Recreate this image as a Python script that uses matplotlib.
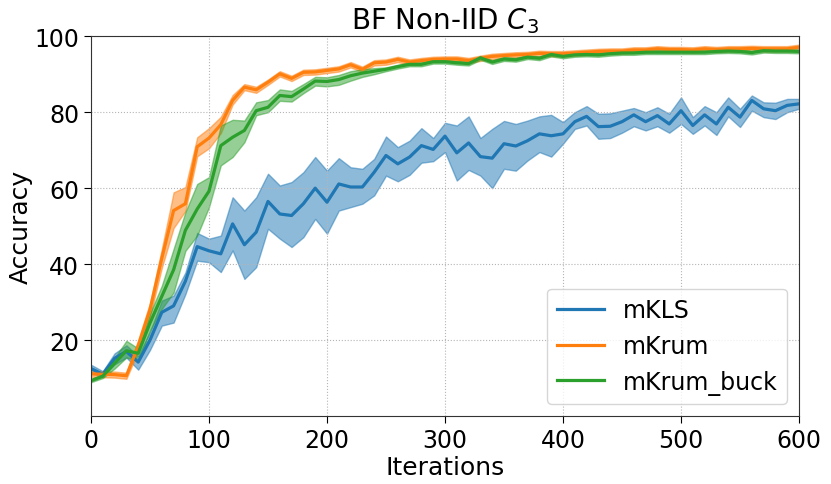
import matplotlib
matplotlib.use("Agg")
import matplotlib.pyplot as plt
import numpy as np

# iterations 0..600, every 10
iters = list(range(0, 601, 10))

# mKLS mean and band
mkls = [12.5, 11.0, 15.2, 17.0, 14.2, 20.0, 27.3, 29.0, 35.5, 44.6,
        43.5, 42.7, 50.6, 45.1, 48.4, 56.5, 53.2, 52.8, 55.9, 60.0,
        56.3, 61.1, 60.3, 60.3, 64.2, 68.6, 66.4, 68.2, 71.2, 70.2,
        73.7, 69.3, 71.9, 68.3, 67.9, 71.7, 71.1, 72.5, 74.3, 73.8,
        74.3, 77.5, 78.9, 76.2, 76.3, 77.5, 79.3, 77.5, 79.1, 76.9,
        80.4, 76.5, 79.3, 76.9, 81.3, 78.7, 83.1, 80.9, 80.4, 81.8, 82.2]
mkls_hi = [13.5, 11.8, 16.5, 18.6, 15.8, 22.2, 30.4, 31.7, 37.8, 48.2,
           46.7, 47.5, 57.6, 54.1, 57.6, 63.8, 60.7, 61.6, 64.2, 68.2,
           64.6, 67.9, 65.5, 65.1, 67.7, 73.6, 70.8, 72.5, 75.8, 73.2,
           77.2, 76.5, 78.9, 73.2, 75.6, 77.7, 76.9, 77.8, 78.9, 79.3,
           77.4, 80.0, 81.6, 79.6, 79.7, 80.4, 81.1, 80.0, 81.3, 79.6,
           83.9, 78.7, 81.6, 80.0, 83.9, 80.9, 84.4, 82.6, 82.5, 83.5, 83.5]
mkls_lo = [11.3, 10.4, 13.6, 15.4, 12.2, 17.4, 23.8, 24.6, 32.1, 40.9,
           40.5, 37.9, 43.6, 36.1, 39.2, 49.3, 46.7, 44.5, 47.1, 51.9,
           48.0, 54.1, 55.0, 55.9, 58.1, 63.3, 61.8, 63.5, 66.7, 67.1,
           69.5, 62.0, 64.8, 63.3, 60.0, 65.1, 64.6, 67.3, 69.5, 68.3,
           71.7, 75.6, 76.5, 73.0, 73.2, 74.6, 76.3, 75.2, 76.3, 74.6,
           76.9, 74.3, 76.5, 74.0, 78.9, 76.1, 80.4, 78.7, 78.2, 80.0, 80.9]

# mKrum
mkrum = [11.1, 11.0, 10.9, 10.6, 18.5, 28.0, 41.5, 54.1, 55.9, 70.9,
         73.2, 76.7, 83.1, 86.6, 85.9, 87.9, 90.1, 88.9, 90.5, 90.6,
         91.0, 91.4, 92.5, 91.3, 93.0, 93.2, 93.9, 93.2, 93.6, 93.9,
         94.0, 94.0, 93.6, 94.2, 94.7, 94.9, 95.1, 95.2, 95.5, 95.4,
         95.4, 95.6, 95.8, 96.0, 96.1, 96.1, 96.4, 96.4, 96.7, 96.5,
         96.5, 96.4, 96.7, 96.5, 96.7, 96.7, 96.8, 96.7, 96.7, 96.7, 97.1]
mkrum_hi = [11.9, 11.8, 11.7, 11.4, 20.0, 29.8, 44.0, 58.9, 60.3, 73.4,
            75.8, 78.8, 84.5, 87.4, 86.7, 88.6, 90.8, 89.6, 91.2, 91.3,
            91.7, 92.1, 93.2, 92.0, 93.7, 93.9, 94.6, 93.9, 94.3, 94.6,
            94.7, 94.7, 94.3, 94.9, 95.4, 95.6, 95.8, 95.9, 96.2, 96.1,
            96.1, 96.3, 96.5, 96.7, 96.8, 96.8, 97.1, 97.1, 97.4, 97.2,
            97.2, 97.1, 97.4, 97.2, 97.4, 97.4, 97.5, 97.4, 97.4, 97.4, 97.8]
mkrum_lo = [10.3, 10.2, 10.1, 9.8, 17.0, 26.2, 39.0, 49.5, 54.0, 68.4,
            70.5, 74.5, 82.0, 85.8, 85.1, 87.2, 89.4, 88.2, 89.8, 89.9,
            90.3, 90.7, 91.8, 90.6, 92.3, 92.5, 93.2, 92.5, 92.9, 93.2,
            93.3, 93.3, 92.9, 93.5, 94.0, 94.2, 94.4, 94.5, 94.8, 94.7,
            94.7, 94.9, 95.1, 95.3, 95.4, 95.4, 95.7, 95.7, 96.0, 95.8,
            95.8, 95.7, 96.0, 95.8, 96.0, 96.0, 96.1, 96.0, 96.0, 96.0, 96.4]

# mKrum_buck
buck = [9.3, 10.5, 13.9, 17.2, 16.5, 24.5, 31.5, 38.5, 48.9, 54.5,
        59.2, 71.2, 73.4, 75.2, 80.4, 81.3, 84.4, 84.1, 86.1, 88.2,
        88.1, 88.6, 89.6, 90.3, 90.8, 91.3, 92.0, 92.6, 92.6, 93.3,
        93.3, 93.0, 92.8, 94.3, 93.2, 94.0, 93.8, 94.5, 94.2, 95.2,
        94.7, 95.1, 95.2, 95.1, 95.4, 95.6, 95.6, 95.8, 95.8, 95.8,
        95.8, 95.8, 95.8, 96.0, 96.1, 96.0, 95.7, 96.2, 96.1, 96.1, 96.0]
buck_hi = [9.7, 11.0, 15.3, 19.8, 17.8, 27.0, 34.3, 44.0, 53.7, 61.1,
           62.9, 76.5, 78.0, 77.8, 82.6, 83.2, 86.0, 85.6, 87.4, 89.3,
           89.2, 89.8, 90.8, 91.3, 91.6, 91.8, 92.5, 93.1, 93.1, 93.8,
           93.8, 93.5, 93.3, 94.8, 93.7, 94.5, 94.3, 95.0, 94.7, 95.7,
           95.2, 95.6, 95.7, 95.6, 95.9, 96.1, 96.1, 96.3, 96.3, 96.3,
           96.3, 96.3, 96.3, 96.5, 96.6, 96.5, 96.2, 96.7, 96.6, 96.6, 96.5]
buck_lo = [8.9, 10.0, 12.5, 15.4, 14.5, 22.5, 28.2, 32.5, 43.5, 47.5,
           55.0, 66.0, 68.2, 72.1, 79.2, 80.0, 83.0, 82.8, 85.0, 87.0,
           86.8, 87.2, 88.3, 89.3, 90.0, 90.8, 91.5, 92.1, 92.1, 92.8,
           92.8, 92.5, 92.3, 93.8, 92.7, 93.5, 93.3, 94.0, 93.7, 94.7,
           94.2, 94.6, 94.7, 94.6, 94.9, 95.1, 95.1, 95.3, 95.3, 95.3,
           95.3, 95.3, 95.3, 95.5, 95.6, 95.5, 95.2, 95.7, 95.6, 95.6, 95.5]

series = [("mKLS", mkls, mkls_lo, mkls_hi, "tab:blue"),
          ("mKrum", mkrum, mkrum_lo, mkrum_hi, "tab:orange"),
          ("mKrum_buck", buck, buck_lo, buck_hi, "tab:green")]

fig = plt.figure(figsize=(8.31, 4.85), dpi=100)
ax = fig.add_axes([0.1095, 0.1402, 0.852, 0.783])

for name, m, lo, hi, c in series:
    ax.fill_between(iters, lo, hi, color=c, alpha=0.5, linewidth=1)
    ax.plot(iters, m, color=c, linewidth=2.3, label=name)

ax.set_xlim(0, 600)
ax.set_ylim(0, 100)
ax.set_yticks([20, 40, 60, 80, 100])
ax.set_xticks([0, 100, 200, 300, 400, 500, 600])
ax.tick_params(labelsize=17, length=5)
ax.grid(True, linestyle=':', color='#b5b5b5', linewidth=0.8)
for s in ax.spines.values():
    s.set_color('#333333')
ax.set_xlabel("Iterations", fontsize=18, labelpad=2)
ax.set_ylabel("Accuracy", fontsize=18, labelpad=1)
ax.set_title("BF Non-IID $C_3$", fontsize=20)
ax.legend(loc="lower right", fontsize=17)

fig.savefig("out.png", dpi=100)
